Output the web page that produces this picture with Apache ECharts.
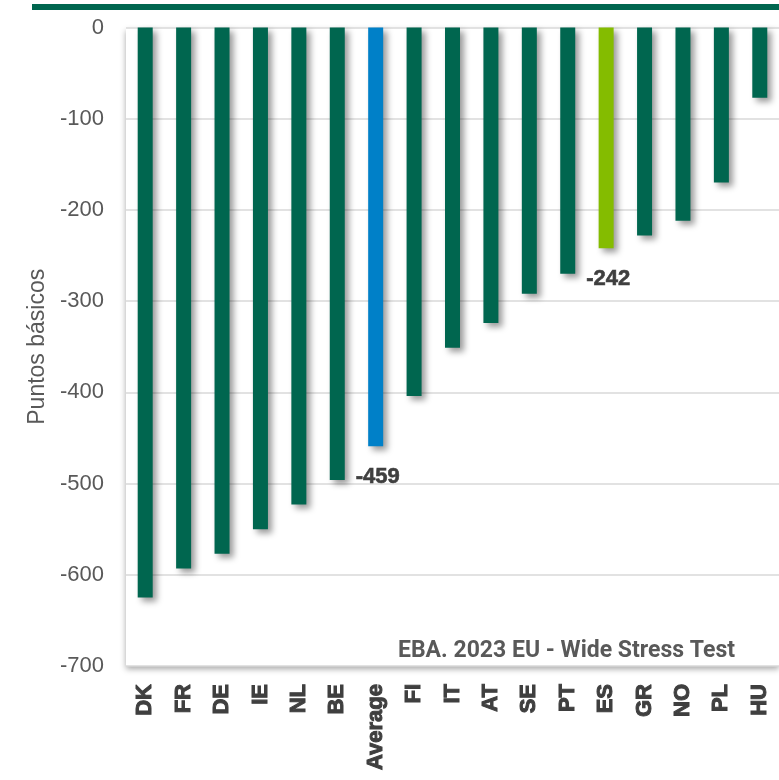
<!DOCTYPE html>
<html>
<head>
<meta charset="utf-8">
<script src="https://cdn.jsdelivr.net/npm/echarts@6/dist/echarts.min.js"></script>
<style>
html,body{margin:0;padding:0;background:#fff;}
#chart{width:779px;height:780px;}
</style>
</head>
<body>
<div id="chart"></div>
<script>
const categories = ['DK','FR','DE','IE','NL','BE','Average','FI','IT','AT','SE','PT','ES','GR','NO','PL','HU'];
const values = [-625, -593, -577, -550, -523, -496, -459, -404, -351, -324, -292, -270, -242, -228, -212, -170, -77];
const labeledCategories = ['Average', 'ES'];
const yTicks = { min: -700, max: 0, interval: 100 };
const yAxisName = 'Puntos básicos';
const footnote = 'EBA. 2023 EU - Wide Stress Test';

const baseColor = '#00664F';
const highlightColors = { 'Average': '#0080C8', 'ES': '#84BC00' };
const FONT = '"Liberation Sans", Arial, sans-serif';

const seriesData = categories.map((c, i) => {
  const item = {
    value: values[i],
    itemStyle: { color: highlightColors[c] || baseColor }
  };
  if (labeledCategories.includes(c)) {
    item.label = { show: true };
  }
  return item;
});

const chart = echarts.init(document.getElementById('chart'), null, { renderer: 'canvas' });
chart.setOption({
  animation: false,
  backgroundColor: '#ffffff',
  grid: {
    left: 126, top: 27.5, width: 656, bottom: 114,
    show: true,
    backgroundColor: '#ffffff',
    borderWidth: 0,
    shadowColor: 'rgba(0,0,0,0.35)',
    shadowBlur: 6,
    shadowOffsetX: 0,
    shadowOffsetY: 3
  },
  xAxis: {
    type: 'category',
    data: categories,
    position: 'bottom',
    axisLine: { show: false },
    axisTick: { show: false },
    axisLabel: {
      rotate: 90,
      margin: 18,
      interval: 0,
      fontFamily: FONT,
      fontWeight: 'bold',
      fontSize: 22,
      color: '#3F3F3F',
      textBorderColor: '#3F3F3F',
      textBorderWidth: 1
    }
  },
  yAxis: {
    type: 'value',
    min: yTicks.min, max: yTicks.max, interval: yTicks.interval,
    name: yAxisName,
    nameLocation: 'middle',
    nameGap: 76,
    nameRotate: 90,
    nameTextStyle: { fontFamily: FONT, fontSize: 23, color: '#595959' },
    axisLine: { show: false },
    axisTick: { show: false },
    axisLabel: {
      margin: 22,
      fontFamily: FONT,
      fontSize: 22,
      color: '#595959'
    },
    splitLine: { lineStyle: { color: '#D9D9D9', width: 1.5 } }
  },
  graphic: [
    { type: 'rect', left: 32, top: 4, shape: { width: 760, height: 6 }, style: { fill: '#00664F' }, z: 10 },
    { type: 'text', right: 44, top: 640, z: 10,
      style: { text: footnote, fill: '#595959', font: 'bold 23px "Liberation Sans Narrow", "Roboto", sans-serif' } }
  ],
  series: [{
    type: 'bar',
    data: seriesData,
    barWidth: 15,
    itemStyle: {
      shadowColor: 'rgba(0,0,0,0.4)',
      shadowBlur: 6,
      shadowOffsetX: 4,
      shadowOffsetY: 4
    },
    label: {
      show: false,
      position: 'bottom',
      distance: 8,
      offset: [2, 12],
      fontFamily: FONT,
      fontWeight: 700,
      fontSize: 22,
      color: '#3F3F3F',
      textBorderColor: '#3F3F3F',
      textBorderWidth: 0.6
    }
  }]
});
</script>
</body>
</html>
